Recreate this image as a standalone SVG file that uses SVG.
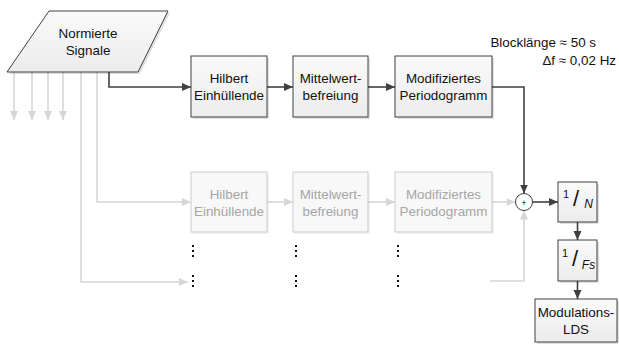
<svg xmlns="http://www.w3.org/2000/svg" width="619" height="362" viewBox="0 0 619 362">
<style>
text{font-family:"Liberation Sans",Arial,sans-serif;font-size:13.4px;text-anchor:middle;fill:#111}
.box{fill:url(#g);stroke:#404040;stroke-width:1}
.gbox{fill:#f8f8f8;stroke:#cbcbcb;stroke-width:1}
.sh{fill:#000;opacity:0.12}
.gsh{fill:#000;opacity:0.05}
.gt{fill:#a6a6a6}
.d{fill:none;stroke:#404040;stroke-width:1.6}
.l{fill:none;stroke:#d6d6d6;stroke-width:1.6}
.dot{fill:#111}
</style>
<defs>
<linearGradient id="g" x1="0" y1="0" x2="0" y2="1">
<stop offset="0" stop-color="#fafafa"/><stop offset="1" stop-color="#ececec"/>
</linearGradient>
<marker id="ad" markerUnits="userSpaceOnUse" markerWidth="10" markerHeight="10" refX="9" refY="4" orient="auto"><path d="M0,0 L9,4 L0,8 z" fill="#404040"/></marker>
<marker id="al" markerUnits="userSpaceOnUse" markerWidth="10" markerHeight="10" refX="9" refY="4" orient="auto"><path d="M0,0 L9,4 L0,8 z" fill="#d6d6d6"/></marker>
</defs>

<g id="connectors">
<path class="l" d="M14,72 V120" marker-end="url(#al)"/>
<path class="l" d="M32,72 V120" marker-end="url(#al)"/>
<path class="l" d="M48,72 V120" marker-end="url(#al)"/>
<path class="l" d="M63,72 V120" marker-end="url(#al)"/>
<path class="l" d="M81,72 V282 H188" marker-end="url(#al)"/>
<path class="l" d="M97,72 V202 H191" marker-end="url(#al)"/>
<path class="l" d="M267,202 H293" marker-end="url(#al)"/>
<path class="l" d="M368,202 H395" marker-end="url(#al)"/>
<path class="l" d="M492,202 H515.5" marker-end="url(#al)"/>
<path class="l" d="M490,281 H524 V210.5" marker-end="url(#al)"/>
<path class="d" d="M109,72 V87 H191" marker-end="url(#ad)"/>
<path class="d" d="M267,87 H293" marker-end="url(#ad)"/>
<path class="d" d="M368,87 H395" marker-end="url(#ad)"/>
<path class="d" d="M492,87 H524 V193.5" marker-end="url(#ad)"/>
<path class="d" d="M532.5,202 H558" marker-end="url(#ad)"/>
<path class="d" d="M577.5,222 V240" marker-end="url(#ad)"/>
<path class="d" d="M577.5,281 V299" marker-end="url(#ad)"/>
</g>

<g id="signale">
<polygon points="51,13 170,13 140,74 9,74" class="sh"/>
<polygon points="49,11 168,11 138,72 7,72" class="box"/>
<text x="88" y="38">Normierte</text>
<text x="88" y="55">Signale</text>
</g>

<g id="hilbert1">
<rect x="193" y="58" width="76" height="61" class="sh"/>
<rect x="191" y="56" width="76" height="61" class="box"/>
<text x="229" y="83">Hilbert</text><text x="229" y="100">Einhüllende</text>
</g>
<g id="mittel1">
<rect x="295" y="58" width="75" height="61" class="sh"/>
<rect x="293" y="56" width="75" height="61" class="box"/>
<text x="330.5" y="83">Mittelwert-</text><text x="330.5" y="100">befreiung</text>
</g>
<g id="perio1">
<rect x="397" y="58" width="97" height="61" class="sh"/>
<rect x="395" y="56" width="97" height="61" class="box"/>
<text x="443.5" y="83">Modifiziertes</text><text x="443.5" y="100">Periodogramm</text>
</g>

<g id="hilbert2">
<rect x="193" y="174" width="76" height="60" class="gsh"/>
<rect x="191" y="172" width="76" height="60" class="gbox"/>
<text class="gt" x="229" y="199">Hilbert</text><text class="gt" x="229" y="216">Einhüllende</text>
</g>
<g id="mittel2">
<rect x="295" y="174" width="75" height="60" class="gsh"/>
<rect x="293" y="172" width="75" height="60" class="gbox"/>
<text class="gt" x="330.5" y="199">Mittelwert-</text><text class="gt" x="330.5" y="216">befreiung</text>
</g>
<g id="perio2">
<rect x="397" y="174" width="97" height="60" class="gsh"/>
<rect x="395" y="172" width="97" height="60" class="gbox"/>
<text class="gt" x="443.5" y="199">Modifiziertes</text><text class="gt" x="443.5" y="216">Periodogramm</text>
</g>

<g id="dots">
<rect class="dot" x="192" y="245" width="2" height="2"/><rect class="dot" x="192" y="250" width="2" height="2"/><rect class="dot" x="192" y="255" width="2" height="2"/>
<rect class="dot" x="192" y="275" width="2" height="2"/><rect class="dot" x="192" y="280" width="2" height="2"/><rect class="dot" x="192" y="285" width="2" height="2"/>
<rect class="dot" x="295" y="245" width="2" height="2"/><rect class="dot" x="295" y="250" width="2" height="2"/><rect class="dot" x="295" y="255" width="2" height="2"/>
<rect class="dot" x="295" y="275" width="2" height="2"/><rect class="dot" x="295" y="280" width="2" height="2"/><rect class="dot" x="295" y="285" width="2" height="2"/>
<rect class="dot" x="397" y="245" width="2" height="2"/><rect class="dot" x="397" y="250" width="2" height="2"/><rect class="dot" x="397" y="255" width="2" height="2"/>
<rect class="dot" x="397" y="275" width="2" height="2"/><rect class="dot" x="397" y="280" width="2" height="2"/><rect class="dot" x="397" y="285" width="2" height="2"/>
</g>

<g id="sum">
<circle cx="524" cy="202" r="8.5" fill="#fff" stroke="#404040" stroke-width="1"/>
<text x="524" y="205.5" style="font-size:9px">+</text>
</g>

<g id="div-n">
<rect x="560" y="184" width="39" height="40" class="sh"/>
<rect x="558" y="182" width="39" height="40" class="box"/>
<text x="566" y="198" style="font-size:11px">1</text>
<text x="576" y="206" style="font-size:22px">/</text>
<text x="588.5" y="208" style="font-size:12px;font-style:italic">N</text>
</g>

<g id="div-fs">
<rect x="560" y="242" width="39" height="41" class="sh"/>
<rect x="558" y="240" width="39" height="41" class="box"/>
<text x="565" y="257" style="font-size:11px">1</text>
<text x="575" y="266" style="font-size:22px">/</text>
<text x="588.5" y="269" style="font-size:12px;font-style:italic">Fs</text>
</g>

<g id="lds">
<rect x="537" y="301" width="82" height="43" class="sh"/>
<rect x="535" y="299" width="82" height="43" class="box"/>
<text x="576" y="317">Modulations-</text><text x="576" y="334">LDS</text>
</g>

<g id="params">
<text x="596" y="47" style="text-anchor:end">Blocklänge ≈ 50 s</text>
<text x="616" y="65" style="text-anchor:end">Δf ≈ 0,02 Hz</text>
</g>
</svg>
